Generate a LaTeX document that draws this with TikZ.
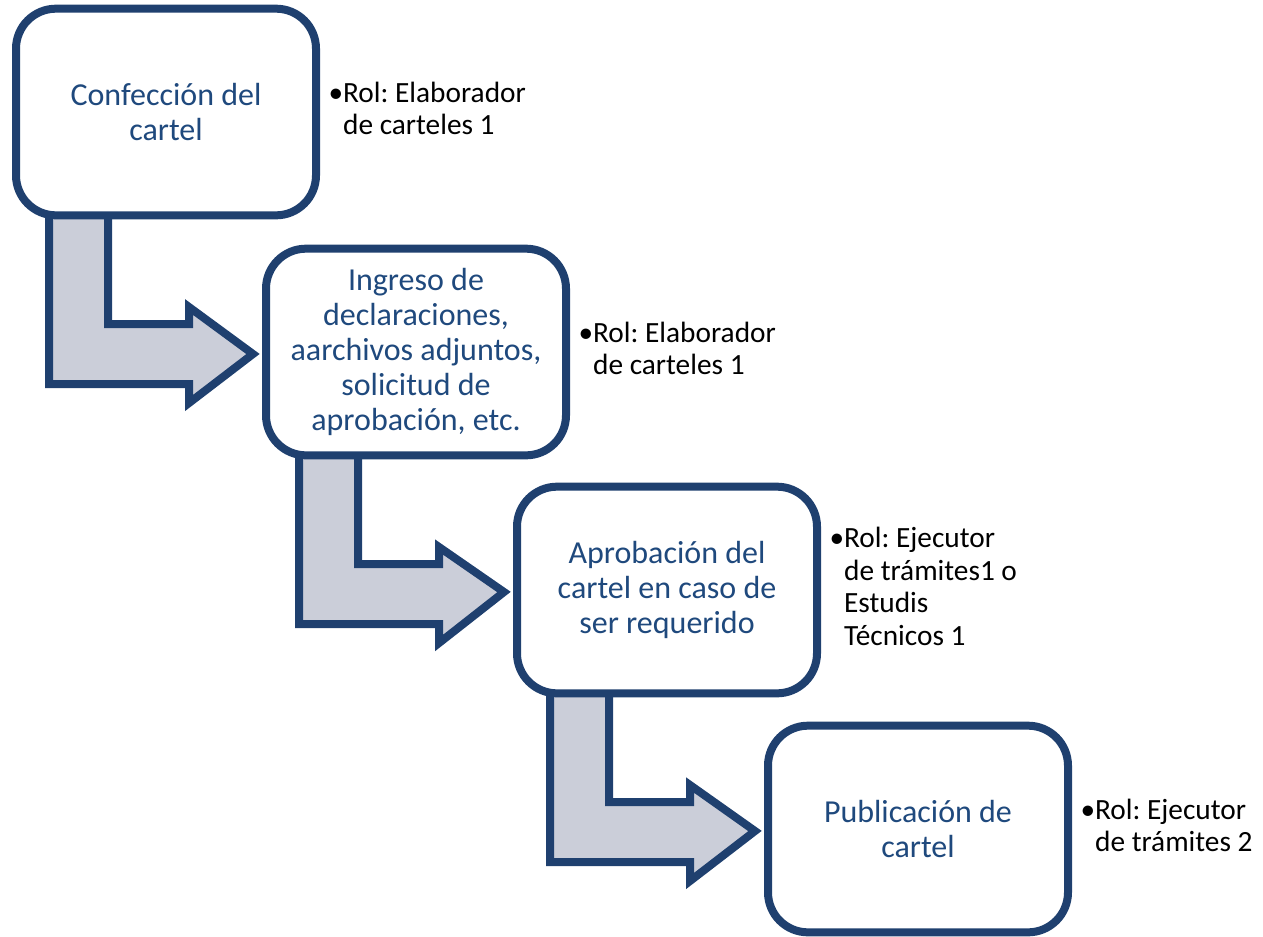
\documentclass[tikz,border=0pt]{standalone}
\usepackage{fontspec}
\setmainfont{Carlito}
\usetikzlibrary{positioning,calc,backgrounds}
\definecolor{boxblue}{RGB}{31,64,111}
\definecolor{txtblue}{RGB}{31,73,125}
\definecolor{flechafill}{RGB}{203,206,217}
\newcommand{\rolitem}[1]{\textbullet\begin{tabular}[t]{@{}l@{}}#1\end{tabular}}
\frenchspacing

\tikzset{every picture/.style={line width=0.75pt}}
\tikzset{
  paso/.style={draw=boxblue, line width=6pt, fill=white, rounded corners=30pt,
    minimum width=225pt, minimum height=155pt, align=center, text=txtblue,
    font=\fontsize{24}{26.25}\selectfont},
  rol/.style={inner sep=0pt, align=left, font=\fontsize{22}{24.5}\selectfont},
  flecha/.style={draw=boxblue, line width=6pt, fill=flechafill, line join=miter}
}

\begin{document}
\begin{tikzpicture}[x=0.75pt,y=0.75pt,yscale=-1,xscale=1]
\path[use as bounding box] (0,0) rectangle (1263,936);

%Rounded Rect
\node [paso] (confeccion) at (166,112) {Confección del\\cartel};
%Rounded Rect
\node [paso] (ingreso) at (416,352) {Ingreso de\\declaraciones,\\aarchivos adjuntos,\\solicitud de\\aprobación, etc.};
%Rounded Rect
\node [paso] (aprobacion) at (667,590) {Aprobación del\\cartel en caso de\\ser requerido};
%Rounded Rect
\node [paso] (publicacion) at (918,829) {Publicación de\\cartel};

% Text Node
\node [rol, right=6pt of confeccion] (rol1) {\rolitem{Rol: Elaborador\\de carteles 1}};
% Text Node
\node [rol, right=6pt of ingreso] (rol2) {\rolitem{Rol: Elaborador\\de carteles 1}};
% Text Node
\node [rol, right=6pt of aprobacion] (rol3) {\rolitem{Rol: Ejecutor\\de trámites1 o\\Estudis\\Técnicos 1}};
% Text Node
\node [rol, right=6pt of publicacion] (rol4) {\rolitem{Rol: Ejecutor\\de trámites 2}};

%Bent Arrows
\begin{scope}[on background layer]
\foreach \a/\b in {confeccion/ingreso, ingreso/aprobacion, aprobacion/publicacion}{
  \draw [flecha] ($(\a.center)+(-117,100)$) -- ($(\a.center)+(-117,272)$)
    -- ($(\a.center)+(23,272)$) -- ($(\a.center)+(23,291)$)
    -- ($(\b.west)+(-9,2)$)
    -- ($(\a.center)+(23,195)$) -- ($(\a.center)+(23,212)$)
    -- ($(\a.center)+(-58,212)$) -- ($(\a.center)+(-58,100)$) -- cycle;
}
\end{scope}

\end{tikzpicture}
\end{document}
